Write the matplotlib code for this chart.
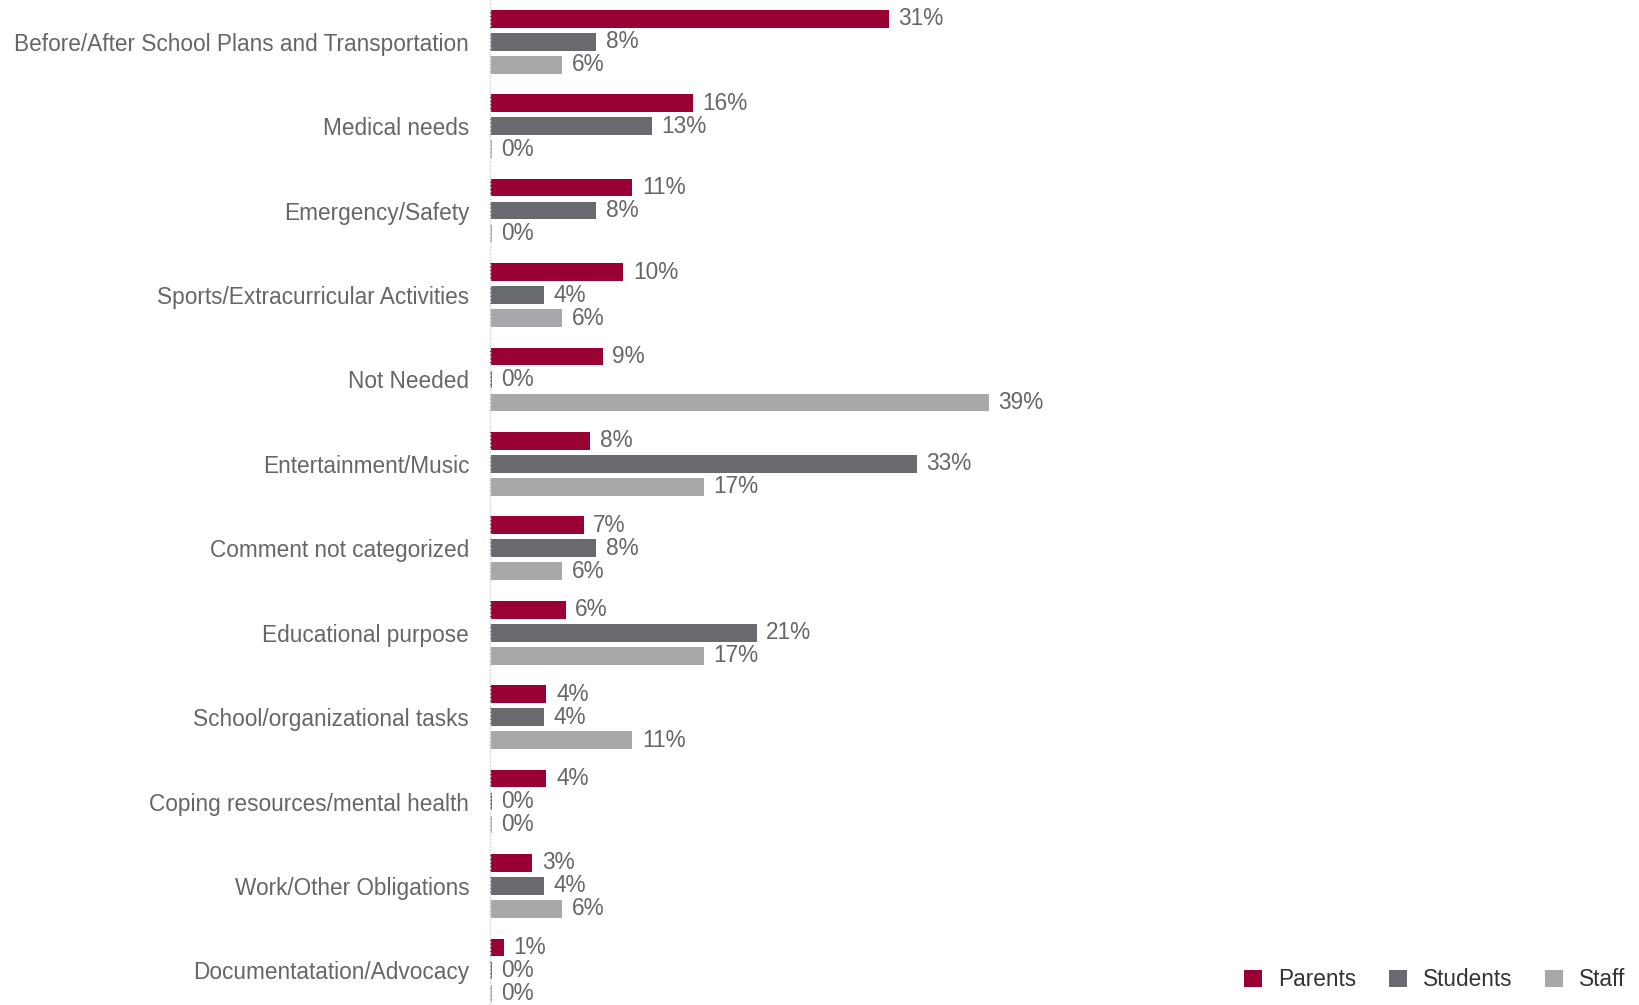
import matplotlib.pyplot as plt
import numpy as np

plt.rcParams["font.family"] = ["Liberation Sans", "DejaVu Sans"]

categories = [
    "Before/After School Plans and Transportation",
    "Medical needs",
    "Emergency/Safety",
    "Sports/Extracurricular Activities",
    "Not Needed",
    "Entertainment/Music",
    "Comment not categorized",
    "Educational purpose",
    "School/organizational tasks",
    "Coping resources/mental health",
    "Work/Other Obligations",
    "Documentatation/Advocacy",
]
series_names = ["Parents", "Students", "Staff"]
parents = [31.1, 15.8, 11.1, 10.4, 8.8, 7.8, 7.3, 5.9, 4.4, 4.4, 3.3, 1.1]
students = [8.3, 12.6, 8.3, 4.2, 0.0, 33.3, 8.3, 20.8, 4.2, 0.0, 4.2, 0.0]
staff = [5.6, 0.0, 0.0, 5.6, 38.9, 16.7, 5.6, 16.7, 11.1, 0.0, 5.6, 0.0]
colors = ["#990033", "#696a6d", "#a7a8aa"]

text_color = "#666666"
fs = 16.3

fig = plt.figure(figsize=(16.39, 10.05), dpi=100)
ax = fig.add_axes([490 / 1639, 0, 1 - 490 / 1639, 1])

y = np.arange(len(categories))
offset = 0.2725
height = 0.21

for k, (vals, col) in enumerate(zip([parents, students, staff], colors)):
    vals = np.array(vals)
    ypos = y + (k - 1) * offset
    # zero values still get a hairline bar, like the original
    shown = np.maximum(vals, 0.15)
    ax.barh(ypos, shown, height=height, color=col, label=series_names[k])
    for yy, w, v in zip(ypos, shown, vals):
        ax.text(w + 0.75, yy, f"{round(v)}%", va="center", ha="left",
                fontsize=fs, color=text_color)

ax.set_xlim(0, 1149 / 12.82)
ax.set_ylim(11.41, -0.495)
ax.set_yticks(y)
ax.set_yticklabels(categories, fontsize=fs, color=text_color)
ax.tick_params(axis="y", length=0, pad=15)
ax.set_xticks([])
for s in ["top", "right", "bottom"]:
    ax.spines[s].set_visible(False)
ax.spines["left"].set_color("#dddddd")
ax.spines["left"].set_linestyle(":")
ax.spines["left"].set_linewidth(1)

leg = ax.legend(loc="lower right", bbox_to_anchor=(1.0, 0.0), ncol=3, frameon=False,
                fontsize=fs, handlelength=0.8, handleheight=0.8, handletextpad=0.7,
                columnspacing=1.45, borderaxespad=0.2)
for t in leg.get_texts():
    t.set_color("#333333")

fig.savefig("out.png", dpi=100)
